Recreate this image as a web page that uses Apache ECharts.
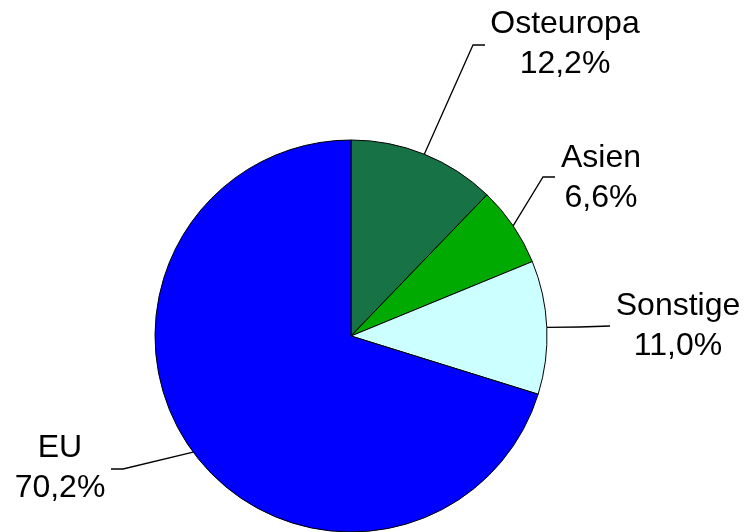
<!DOCTYPE html>
<html>
<head>
<meta charset="utf-8">
<script src="https://cdn.jsdelivr.net/npm/echarts@6/dist/echarts.min.js"></script>
<style>
    html, body { margin: 0; padding: 0; background: #fff; }
    #chart { width: 747px; height: 532px; }
</style>
</head>
<body>
<div id="chart"></div>
<script>
// Daten
const regions = ['Osteuropa', 'Asien', 'Sonstige', 'EU'];
const shares = [12.2, 6.6, 11.0, 70.2];
const shareLabels = ['12,2%', '6,6%', '11,0%', '70,2%'];
const sliceColors = ['#177245', '#00aa00', '#ccffff', '#0000ff'];

// Beschriftungspositionen (Knick der Linie, Textmitte)
const labelPlaces = [
    { elbow: [473, 45], end: [485, 45], x: 565, y: 44 },
    { elbow: [543, 177], end: [555, 177], x: 601, y: 178 },
    { elbow: [580, 327], end: [610, 326], x: 678, y: 326 },
    { elbow: [123, 469], end: [111, 469], x: 60, y: 468 }
];

const chart = echarts.init(document.getElementById('chart'));

const option = {
    animation: false,
    backgroundColor: '#fff',
    series: [
        {
            type: 'pie',
            center: [351, 336],
            radius: 196,
            startAngle: 90,
            clockwise: true,
            avoidLabelOverlap: false,
            data: regions.map((name, i) => ({
                name: name,
                value: shares[i],
                itemStyle: { color: sliceColors[i] }
            })),
            itemStyle: {
                borderColor: '#000',
                borderWidth: 1
            },
            label: {
                show: true,
                formatter: p => p.name + '\n' + shareLabels[p.dataIndex],
                fontFamily: 'Liberation Sans, Arial, sans-serif',
                fontSize: 32,
                lineHeight: 40,
                color: '#000'
            },
            labelLine: {
                show: true,
                length: 20,
                length2: 10,
                lineStyle: { color: '#000', width: 1.3 }
            },
            labelLayout: function (params) {
                const place = labelPlaces[params.dataIndex];
                const start = params.labelLinePoints ? params.labelLinePoints[0] : place.elbow;
                return {
                    x: place.x,
                    y: place.y,
                    align: 'center',
                    verticalAlign: 'middle',
                    labelLinePoints: [start, place.elbow, place.end]
                };
            },
            emphasis: { disabled: true }
        }
    ]
};

chart.setOption(option);
</script>
</body>
</html>
